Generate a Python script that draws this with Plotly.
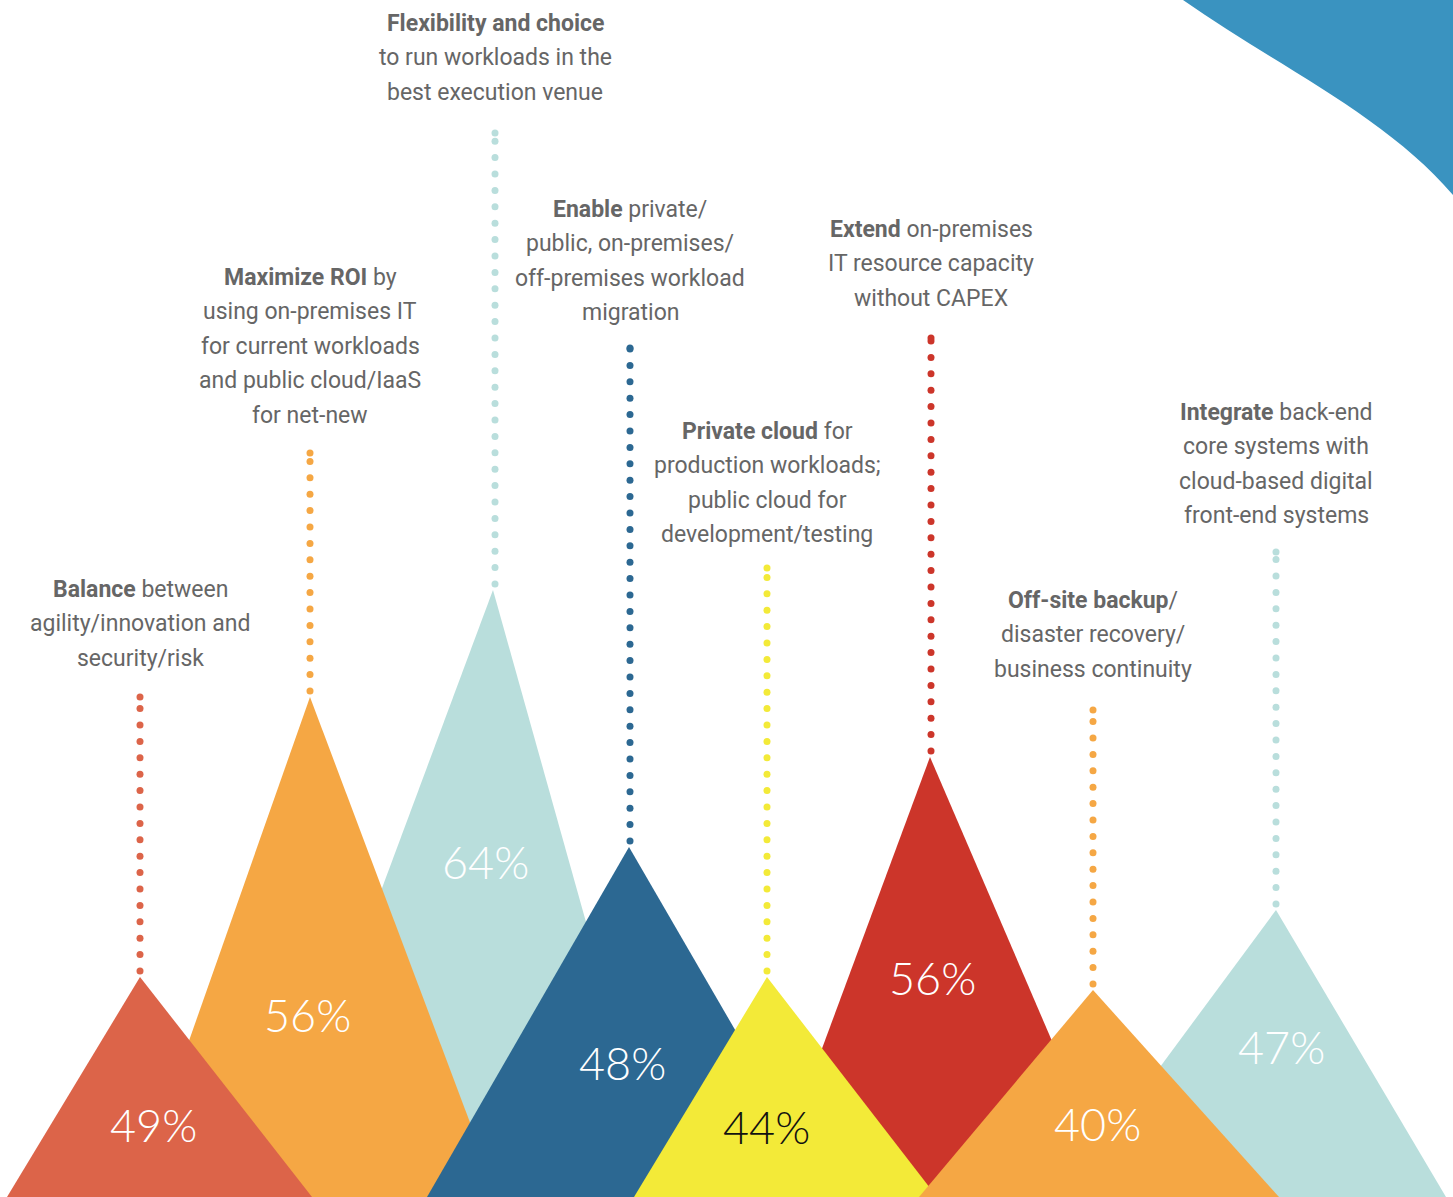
import numpy as np
import plotly.graph_objects as go

W, H = 1453, 1197

# ── data ──────────────────────────────────────
categories = ["Balance", "Maximize ROI", "Flexibility and choice", "Enable",
              "Private cloud", "Extend", "Off-site backup", "Integrate"]
values = [49, 56, 64, 48, 44, 56, 40, 47]
label_lines = [
    ["<b>Balance</b> between", "agility/innovation and", "security/risk"],
    ["<b>Maximize ROI</b> by", "using on-premises IT", "for current workloads",
     "and public cloud/IaaS", "for net-new"],
    ["<b>Flexibility and choice</b>", "to run workloads in the", "best execution venue"],
    ["<b>Enable</b> private/", "public, on-premises/", "off-premises workload", "migration"],
    ["<b>Private cloud</b> for", "production workloads;", "public cloud for",
     "development/testing"],
    ["<b>Extend</b> on-premises", "IT resource capacity", "without CAPEX"],
    ["<b>Off-site backup</b>/", "disaster recovery/", "business continuity"],
    ["<b>Integrate</b> back-end", "core systems with", "cloud-based digital",
     "front-end systems"],
]

# ── layout geometry (pixels, y down) ──────────
peak_x = [140, 310, 493, 629, 767, 930, 1093, 1276]
peak_y = [977, 697, 590, 847, 977, 757, 990, 910]
base_l = [7, 134, 267, 427, 634, 767, 919, 1064]
base_r = [312, 498, 663, 832, 937, 1119, 1279, 1446]
dot_x = [140, 310, 495, 630, 767, 931, 1093, 1276]
dot_top = [697, 453, 133, 348, 568, 338, 710, 552]
label_y0 = [589, 277, 23, 209, 431, 229, 600, 412]
pct_x = [153, 307, 485, 622, 766, 932, 1097, 1281]
pct_y = [1125, 1015, 862, 1063, 1127, 978, 1124, 1047]
colors = ["#DC6449", "#F5A744", "#B9DEDC", "#2C6892",
          "#F3EA38", "#CC352A", "#F5A744", "#B9DEDC"]
pct_colors = ["white", "white", "white", "white", "#111111", "white", "white", "white"]
draw_order = [2, 1, 0, 3, 5, 4, 7, 6]

fig = go.Figure()

# triangles
for i in draw_order:
    fig.add_trace(go.Scatter(
        x=[base_l[i], peak_x[i], base_r[i], base_l[i]],
        y=[H, peak_y[i], H, H],
        mode="lines", fill="toself", fillcolor=colors[i],
        line=dict(width=0), hoverinfo="skip", name=categories[i],
    ))

# dotted leader lines
for i in range(len(values)):
    ys = np.arange(peak_y[i] - 6, dot_top[i], -16.4)
    ys = np.append(ys, dot_top[i])
    fig.add_trace(go.Scatter(
        x=[dot_x[i]] * len(ys), y=ys, mode="markers",
        marker=dict(size=7, color=colors[i]), hoverinfo="skip",
    ))

annotations = []
for i, v in enumerate(values):
    annotations.append(dict(
        x=pct_x[i], y=pct_y[i], text=f"{v}%", showarrow=False,
        font=dict(family="Lato", size=45, color=pct_colors[i], weight=300),
        xanchor="center", yanchor="middle",
    ))
    for k, line in enumerate(label_lines[i]):
        annotations.append(dict(
            x=dot_x[i], y=label_y0[i] + k * 34.6, text=line, showarrow=False,
            font=dict(family="Roboto", size=23, color="#666666"),
            xanchor="center", yanchor="middle",
        ))

fig.update_layout(
    width=W, height=H,
    margin=dict(l=0, r=0, t=0, b=0),
    paper_bgcolor="white", plot_bgcolor="white",
    showlegend=False,
    xaxis=dict(range=[0, W], visible=False, fixedrange=True),
    yaxis=dict(range=[H, 0], visible=False, fixedrange=True),
    annotations=annotations,
    shapes=[dict(
        type="path", xref="x", yref="y",
        path=f"M 1183,0 C 1275,65 1385,115 {W},195 L {W},0 Z",
        fillcolor="#3A93C0", line=dict(width=0), layer="below",
    )],
)

fig.write_html("out.html", config={"displayModeBar": False},
               post_script="document.body.style.margin='0';")
